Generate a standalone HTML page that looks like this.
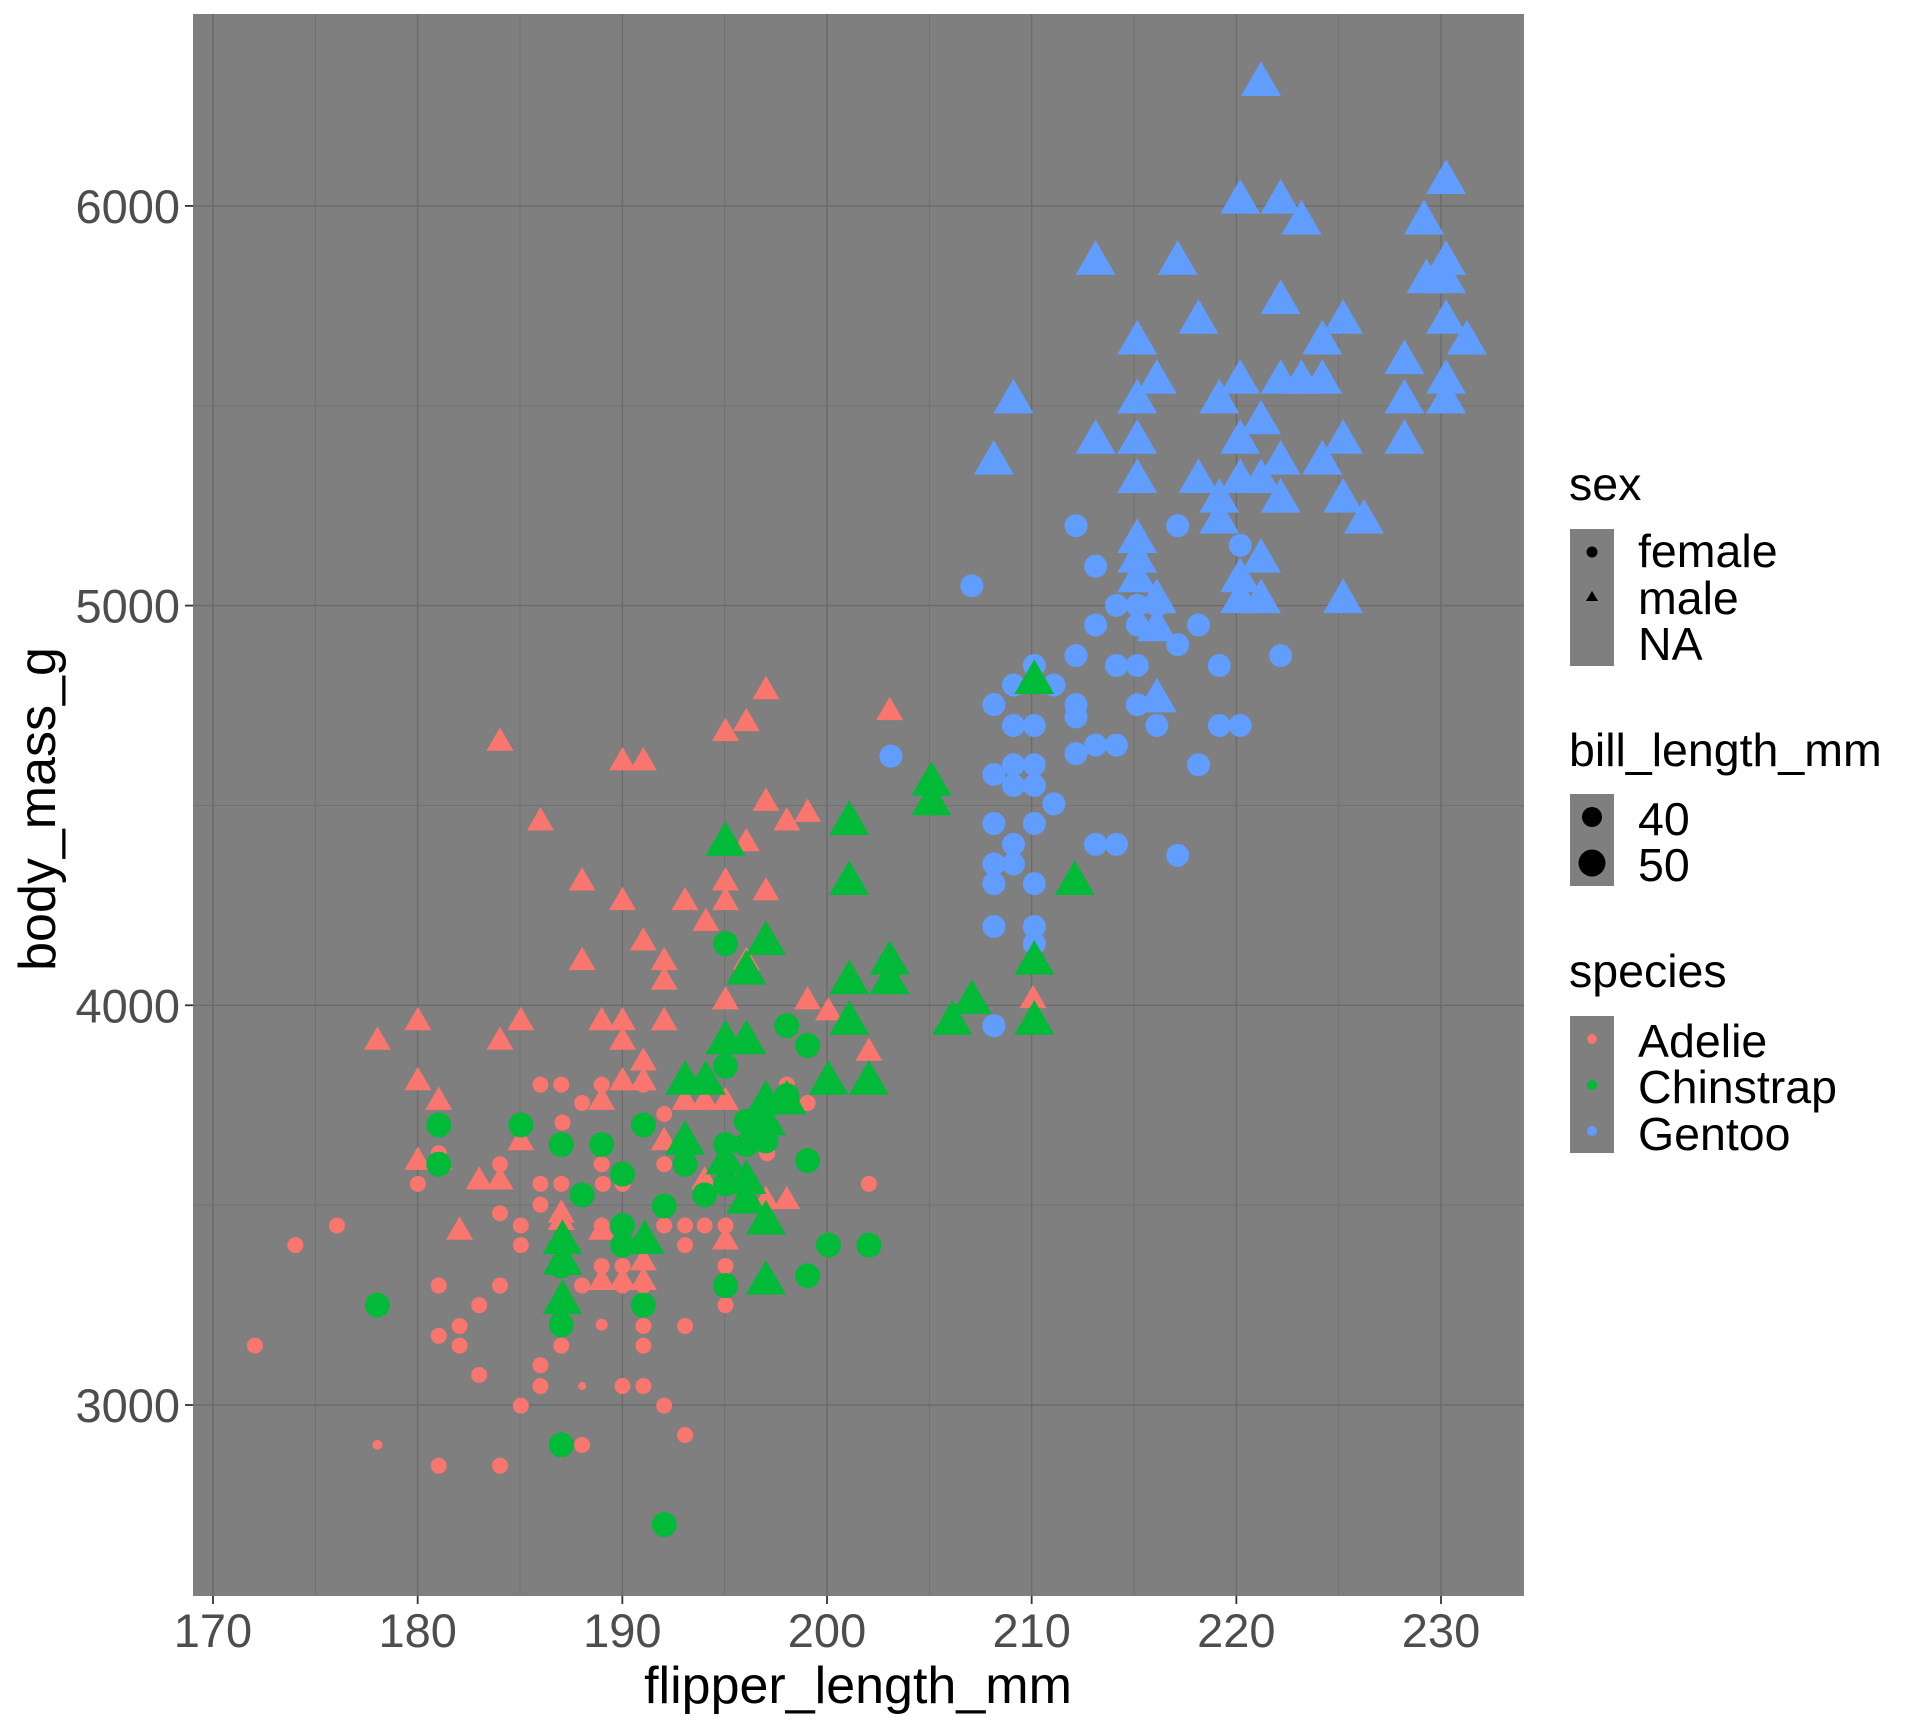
<!DOCTYPE html>
<html><head><meta charset="utf-8"><style>
html,body{margin:0;padding:0;background:#fff;}
svg{display:block;font-family:"Liberation Sans",Arial,sans-serif;}
</style></head><body>
<svg id="s" width="1920" height="1728" viewBox="0 0 1920 1728" xmlns="http://www.w3.org/2000/svg">
<rect x="0" y="0" width="1920" height="1728" fill="#fff"/>
<rect x="193" y="14" width="1331" height="1582" fill="#7F7F7F"/>
<g id="grid"></g>
<g id="pts"></g>
<g id="axes" fill="#4D4D4D" font-size="47"></g>
<text x="858" y="1703" font-size="52" text-anchor="middle" fill="#000">flipper_length_mm</text>
<text transform="translate(55,809) rotate(-90)" font-size="52" text-anchor="middle" fill="#000">body_mass_g</text>
<g font-size="46.5" fill="#000">
<text x="1569" y="500">sex</text>
<rect x="1570" y="529" width="44" height="137" fill="#7F7F7F"/>
<circle cx="1592" cy="552" r="5.5" fill="#000"/>
<polygon points="1592,591 1598,601 1586,601" fill="#000"/>
<text x="1638" y="567">female</text><text x="1638" y="614">male</text><text x="1638" y="660">NA</text>
<text x="1569" y="766">bill_length_mm</text>
<rect x="1570" y="794" width="44" height="92" fill="#7F7F7F"/>
<circle cx="1592" cy="817" r="10" fill="#000"/>
<circle cx="1592" cy="863" r="13.5" fill="#000"/>
<text x="1638" y="835">40</text><text x="1638" y="881">50</text>
<text x="1569" y="987">species</text>
<rect x="1570" y="1016" width="44" height="137" fill="#7F7F7F"/>
<circle cx="1592" cy="1039" r="5" fill="#F8766D"/>
<circle cx="1592" cy="1085" r="5" fill="#00BA38"/>
<circle cx="1592" cy="1131" r="5" fill="#619CFF"/>
<text x="1638" y="1057">Adelie</text><text x="1638" y="1103">Chinstrap</text><text x="1638" y="1150">Gentoo</text>
</g>
</svg>
<script>
var NS="http://www.w3.org/2000/svg";
function el(p,t,a,txt){var e=document.createElementNS(NS,t);for(var k in a)e.setAttribute(k,a[k]);if(txt)e.textContent=txt;p.appendChild(e);return e;}
var g=document.getElementById('grid'),ax=document.getElementById('axes');
function X(f){return 213+(f-170)*20.467;}
function Y(m){return 1405-(m-3000)*0.3997;}
for(var f=175;f<=225;f+=10)el(g,'line',{x1:X(f),x2:X(f),y1:14,y2:1596,stroke:'#727272','stroke-width':1});
for(var m=3500;m<=5500;m+=1000)el(g,'line',{x1:193,x2:1524,y1:Y(m),y2:Y(m),stroke:'#727272','stroke-width':1});
for(var f=170;f<=230;f+=10){el(g,'line',{x1:X(f),x2:X(f),y1:14,y2:1596,stroke:'#6B6B6B','stroke-width':1.4});
 el(ax,'line',{x1:X(f),x2:X(f),y1:1596,y2:1604,stroke:'#333','stroke-width':1.8});
 el(ax,'text',{x:X(f),y:1647,'text-anchor':'middle'},String(f));}
for(var m=3000;m<=6000;m+=1000){el(g,'line',{x1:193,x2:1524,y1:Y(m),y2:Y(m),stroke:'#6B6B6B','stroke-width':1.4});
 el(ax,'line',{x1:185,x2:193,y1:Y(m),y2:Y(m),stroke:'#333','stroke-width':1.8});
 el(ax,'text',{x:180,y:Y(m)+17,'text-anchor':'end'},String(m));}
var P=document.getElementById('pts');
function circ(list,col,r){list.forEach(function(p){el(P,'circle',{cx:p[0]*1.2255,cy:p[1]*1.2255,r:(p[2]||r),fill:col});});}
function tri(list,col,s){list.forEach(function(p){var ss=p[2]||s,h=ss*0.866,cx=p[0]*1.2255,cy=p[1]*1.2255;
 el(P,'polygon',{points:cx+','+(cy-h*0.6)+' '+(cx+ss/2)+','+(cy+h*0.4)+' '+(cx-ss/2)+','+(cy+h*0.4),fill:col});});}
var AR='#F8766D',CH='#00BA38',GE='#619CFF';
tri([[625,563],[726,580],[609,589],[592,597],[408,605],[508,621],[525,621],[441,670],[625,654],[642,670],[659,663],[609,687],[592,719],[475,719],[625,727],[508,735],[559,735],[576,752],[592,735],[525,768],[609,784],[475,784],[542,784],[542,800],[659,816],[592,816],[676,825],[341,833],[425,833],[491,833],[508,833],[542,833],[592,849],[308,849],[408,849],[508,849],[709,858],[525,866],[341,882],[358,898],[491,898],[508,882],[525,882],[592,898],[559,898],[575,898],[341,947],[358,947],[391,963],[408,963],[425,931],[542,931],[591,947],[608,963],[458,990],[375,1004],[491,1004],[642,979],[458,996],[525,1029],[491,1045],[508,1045],[525,1045],[575,963],[592,1012],[625,979],[843,815]],AR,27);
circ([[208,1098],[241,1016],[275,1000],[341,966],[358,941],[441,885],[458,885],[491,885],[525,885],[408,950],[441,966],[458,966],[441,983],[408,990],[425,1016],[491,1000],[491,1033],[508,1033],[508,1049],[525,1049],[475,1049],[559,1016],[559,1000],[575,1000],[592,1000],[592,1033],[592,1065],[559,1082],[525,1082],[491,1081,6],[358,1049],[358,1090],[375,1082],[375,1098],[391,1122],[441,1114],[441,1131],[458,1098],[425,1147],[475,1131,4],[508,1131],[525,1131],[542,1147],[559,1171],[475,1179],[308,1179,5],[358,1196],[408,1196],[459,916],[459,933],[475,900],[491,950],[508,966],[542,909],[542,950],[642,885],[659,900],[709,966],[626,941],[391,1065],[408,1049],[425,1000],[525,1098],[542,1000],[492,966]],AR,8);
tri([[1029,67],[1012,163],[1045,163],[1062,180],[1180,147],[1162,180],[1180,213],[1164,228],[1180,228],[894,213],[961,213],[928,278],[944,310],[978,261],[1045,245],[1180,261],[1197,278],[1079,278],[1096,261],[1146,294],[1012,310],[1045,310],[1062,310],[1079,310],[995,326],[1146,326],[1180,310],[1180,326],[827,326],[928,326],[894,359],[928,359],[1146,359],[1029,343],[1012,359],[1096,359],[811,376],[1045,376],[1079,376],[928,391],[978,391],[1012,391],[1029,391],[1096,407],[1045,407],[1113,424],[995,407],[995,424],[928,440],[928,456],[928,472],[1029,456],[1012,472],[1012,489],[1029,489],[1096,489],[944,489],[944,512],[944,570]],GE,40);
circ([[793,478],[878,429],[894,462],[911,494],[894,510],[928,494],[944,494],[928,510],[961,526],[978,510],[911,543],[928,543],[878,535],[878,575],[878,585],[995,543],[1012,445],[961,429],[1045,535],[928,575],[944,592],[995,592],[1012,592],[978,624],[894,608],[911,608],[878,615],[860,559],[844,543],[827,559],[811,575],[827,592],[844,592],[844,624],[827,624],[827,641],[844,641],[811,632],[844,672],[827,689],[811,672],[860,656],[844,721],[827,705],[811,705],[811,721],[844,756],[811,756],[844,770],[811,837],[894,689],[911,689],[961,698],[727,617]],GE,11.5);
tri([[844,555],[877,719],[760,638],[760,654],[693,670],[693,719],[592,687],[625,768],[609,792],[726,784],[726,800],[693,800],[693,833],[793,816],[777,833],[844,784],[844,833],[559,882],[576,882],[592,849],[609,849],[676,882],[709,882],[625,898],[642,898],[625,915],[559,931],[592,947],[609,963],[609,979],[625,996],[526,1012],[459,1012],[459,1029],[459,1061],[625,1045]],CH,40);
circ([[592,770],[642,837],[659,853],[592,870],[642,898],[609,915],[625,931],[659,947],[358,918],[425,918],[525,918],[458,934],[491,934],[592,934],[609,934],[358,950],[508,958],[559,950],[609,966],[575,975],[475,975],[542,984],[508,1000],[508,1016],[676,1016],[709,1016],[458,1033],[592,1049],[659,1041],[525,1065],[308,1065],[458,1081],[458,1179],[542,1244],[642,894],[592,966]],CH,12.5);
</script>
</body></html>
